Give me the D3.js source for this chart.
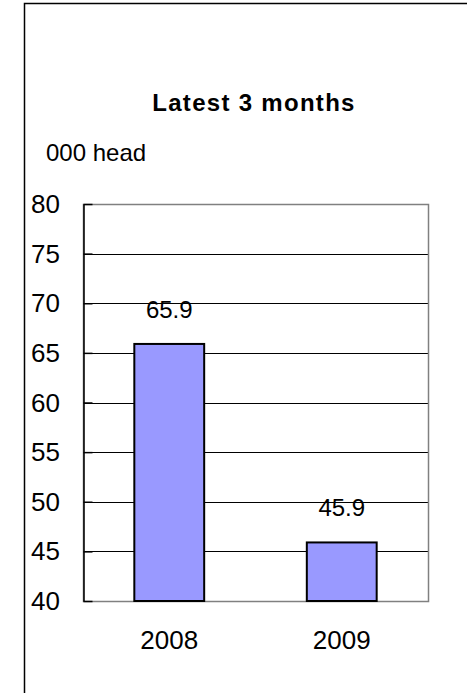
<!DOCTYPE html>
<html>
<head>
<meta charset="utf-8">
<script src="https://cdn.jsdelivr.net/npm/d3@7"></script>
<style>
  html, body { margin: 0; padding: 0; background: #fff; }
  svg text { font-family: "Liberation Sans", Arial, sans-serif; fill: #000; }
</style>
</head>
<body>
<div id="chart"></div>
<script>
/* Latest 3 months — head count bar chart */
var categories = ["2008", "2009"];
var values = [65.9, 45.9];
var yTicks = [40, 45, 50, 55, 60, 65, 70, 75, 80];
var titleText = "Latest 3 months";
var unitText = "000 head";

(function () {
  "use strict";

  var W = 467, H = 693;
  var plot = { l: 83, r: 428, t: 204, b: 601 };

  var svg = d3.select("#chart").append("svg").attr("width", W).attr("height", H);

  // outer frame (only top + left visible in the picture)
  svg.append("path")
    .attr("d", "M24.5," + H + "V3.5H" + W)
    .attr("fill", "none").attr("stroke", "#000").attr("stroke-width", 1.5);

  var x = d3.scaleBand().domain(categories).range([plot.l, plot.r])
    .paddingInner(0.595).paddingOuter(0.2975);
  var y = d3.scaleLinear().domain([40, 80]).range([plot.b, plot.t]);

  // gridlines
  svg.append("g").selectAll("line").data(yTicks.slice(1, -1)).join("line")
    .attr("x1", plot.l).attr("x2", plot.r)
    .attr("y1", function (d) { return Math.round(y(d)) + 0.5; })
    .attr("y2", function (d) { return Math.round(y(d)) + 0.5; })
    .attr("stroke", "#000").attr("stroke-width", 1);

  // plot area border (grey)
  svg.append("rect")
    .attr("x", plot.l + 0.5).attr("y", plot.t + 0.5)
    .attr("width", plot.r - plot.l).attr("height", plot.b - plot.t)
    .attr("fill", "none").attr("stroke", "#808080").attr("stroke-width", 1.5);

  // y axis with inside ticks
  var yAxis = svg.append("g").attr("transform", "translate(" + (plot.l + 0.5) + ",0)")
    .call(d3.axisRight(y).tickValues(yTicks).tickSize(9).tickSizeOuter(0).tickFormat(""));
  yAxis.select(".domain").attr("stroke", "#000").attr("stroke-width", 1.5);
  yAxis.selectAll(".tick line").attr("stroke", "#000").attr("stroke-width", 1.5);

  svg.append("g").selectAll("text").data(yTicks).join("text")
    .attr("x", 60).attr("y", function (d) { return y(d); })
    .attr("dy", "0.35em").attr("text-anchor", "end")
    .style("font-size", "26px")
    .text(function (d) { return d; });

  // bars
  svg.append("g").selectAll("rect").data(values).join("rect")
    .attr("x", function (d, i) { return x(categories[i]); })
    .attr("y", function (d) { return y(d); })
    .attr("width", x.bandwidth())
    .attr("height", function (d) { return y(40) - y(d); })
    .attr("fill", "#9999ff").attr("stroke", "#000").attr("stroke-width", 2);

  // value labels
  svg.append("g").selectAll("text").data(values).join("text")
    .attr("x", function (d, i) { return x(categories[i]) + x.bandwidth() / 2; })
    .attr("y", function (d) { return y(d) - 26; })
    .attr("text-anchor", "middle")
    .style("font-size", "24px")
    .text(function (d) { return d.toFixed(1); });

  // category labels
  svg.append("g").selectAll("text").data(categories).join("text")
    .attr("x", function (d) { return x(d) + x.bandwidth() / 2; })
    .attr("y", 649)
    .attr("text-anchor", "middle")
    .style("font-size", "26px")
    .text(function (d) { return d; });

  // title + unit
  svg.append("text").attr("x", 254).attr("y", 111)
    .attr("text-anchor", "middle")
    .style("font-size", "24px").style("font-weight", "bold").style("letter-spacing", "1.3px")
    .text(titleText);
  svg.append("text").attr("x", 46).attr("y", 161)
    .style("font-size", "24px")
    .text(unitText);
})();
</script>
</body>
</html>
